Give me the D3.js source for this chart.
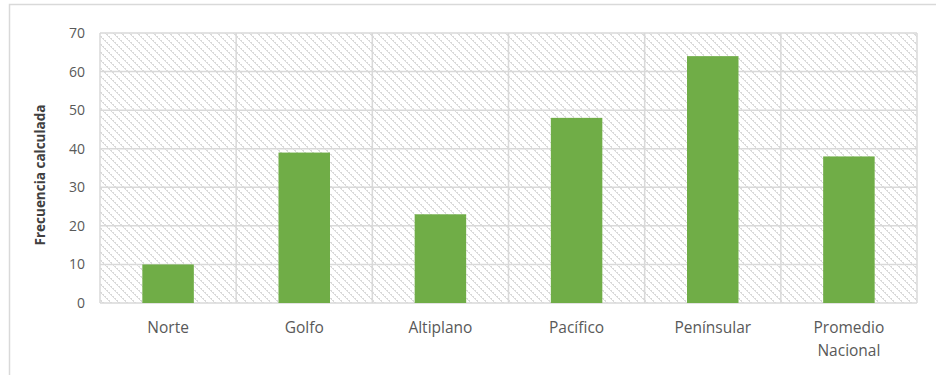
<!DOCTYPE html>
<html><head><meta charset="utf-8">
<script src="https://cdn.jsdelivr.net/npm/d3@7"></script>
<style>body{margin:0;background:#fff}svg{display:block}</style>
</head><body>
<script>
const categories = ["Norte","Golfo","Altiplano","Pacífico","Penínsular","Promedio Nacional"];
const values = [10,39,23,48,64,38];
const yTicks = [0,10,20,30,40,50,60,70];
const yTitle = "Frecuencia calculada";

const W=936,H=375;
const m={l:100,r:19,t:33,b:72};
const FONT="'Open Sans', 'Noto Sans', sans-serif";
const svg=d3.select("body").append("svg").attr("width",W).attr("height",H);
const defs=svg.append("defs");
const pat=defs.append("pattern").attr("id","hatch").attr("patternUnits","userSpaceOnUse")
  .attr("width",8).attr("height",8);
const cells=[];
for(let k=0;k<8;k++){cells.push([k,k]); if(k%2===0) cells.push([(k+1)%8,k]);}
pat.selectAll("rect").data(cells).join("rect").attr("x",d=>d[0]).attr("y",d=>d[1])
  .attr("width",1).attr("height",1).attr("fill","#dadada");

// outer chart border
svg.append("path").attr("d",`M9.5,${H+5} L9.5,4.5 L${W+5},4.5`).attr("fill","none").attr("stroke","#d9d9d9").attr("stroke-width",1.5);

const x=d3.scaleBand().domain(categories).range([m.l,W-m.r]).paddingInner(0).paddingOuter(0);
const y=d3.scaleLinear().domain([0,70]).range([H-m.b,m.t]);
const g=svg.append("g");
g.append("rect").attr("x",m.l).attr("y",m.t).attr("width",W-m.r-m.l).attr("height",H-m.b-m.t).attr("fill","url(#hatch)");

// grid
g.selectAll(".hg").data(yTicks).join("line").attr("x1",m.l).attr("x2",W-m.r)
  .attr("y1",d=>y(d)).attr("y2",d=>y(d)).attr("stroke","#d9d9d9").attr("stroke-width",1.5);
const bounds=categories.map(c=>x(c)).concat([x(categories[categories.length-1])+x.bandwidth()]);
g.selectAll(".vg").data(bounds).join("line").attr("y1",m.t).attr("y2",H-m.b)
  .attr("x1",d=>d).attr("x2",d=>d).attr("stroke","#d9d9d9").attr("stroke-width",1.5);

// bars
const bw=51.5;
g.selectAll(".bar").data(values).join("rect")
  .attr("x",(d,i)=>x(categories[i])+x.bandwidth()/2-bw/2).attr("width",bw)
  .attr("y",d=>y(d)).attr("height",d=>y(0)-y(d)).attr("fill","#70ad47");

// y axis
const ya=svg.append("g").attr("transform",`translate(${m.l},0)`)
  .call(d3.axisLeft(y).tickValues(yTicks).tickSize(0).tickPadding(15));
ya.select(".domain").remove();
ya.selectAll("text").attr("font-family",FONT).attr("font-size",14).attr("fill","#595959");

// x labels
const xl=svg.append("g");
categories.forEach((c,i)=>{
  const words=c==="Promedio Nacional"?["Promedio","Nacional"]:[c];
  const t=xl.append("text").attr("x",x(c)+x.bandwidth()/2).attr("y",332.5)
    .attr("text-anchor","middle").attr("font-family",FONT)
    .attr("font-size",15.5).attr("fill","#595959");
  words.forEach((w,j)=>t.append("tspan").attr("x",x(c)+x.bandwidth()/2).attr("dy",j?23:0).text(w));
});

svg.append("text").attr("transform",`translate(45,${175}) rotate(-90)`)
  .attr("text-anchor","middle").attr("font-family",FONT)
  .attr("font-size",13.5).attr("font-weight","bold").attr("fill","#404040").text(yTitle);
</script>
</body></html>
